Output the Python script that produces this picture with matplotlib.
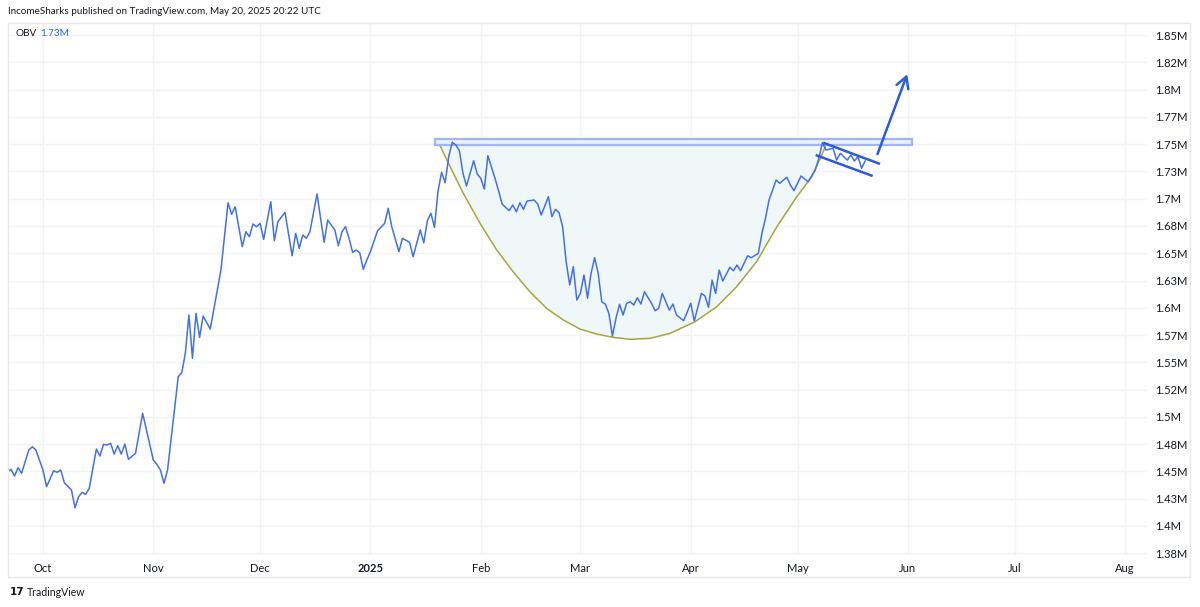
"""
OBV cup-and-handle chart, TradingView style.
"""
from datetime import datetime

import matplotlib
matplotlib.use("Agg")
import matplotlib.pyplot as plt
import matplotlib.dates as mdates
from matplotlib.patches import Rectangle
import numpy as np

plt.rcParams["font.family"] = ["Lato", "DejaVu Sans"]

# OBV data (millions), day offsets from 2024-09-21
start_date = datetime(2024, 9, 21)
day_offsets = [
    0, 1, 2, 3, 4, 6, 7, 8, 10, 11, 13, 14, 15, 16, 18, 19, 20, 21, 22, 23,
    25, 26, 27, 28, 29, 30, 31, 32, 33, 34, 36, 38, 41, 42, 43, 44, 45, 48, 49, 50,
    51, 52, 53, 54, 55, 57, 59, 60, 62, 63, 64, 66, 67, 68, 69, 70, 71, 72, 74, 75,
    76, 78, 80, 81, 82, 83, 84, 85, 87, 89, 90, 92, 93, 94, 95, 96, 97, 98, 99, 100,
    101, 102, 104, 106, 107, 108, 110, 111, 113, 114, 115, 116, 117, 118, 119, 120, 121, 122, 123, 124,
    125, 126, 127, 128, 129, 131, 132, 133, 134, 135, 137, 138, 139, 141, 142, 143, 144, 145, 146, 148,
    149, 150, 152, 153, 154, 155, 156, 157, 158, 159, 160, 161, 162, 163, 164, 165, 166, 167, 168, 169,
    170, 171, 172, 173, 174, 175, 176, 177, 178, 179, 181, 182, 183, 184, 186, 187, 188, 190, 192, 193,
    195, 196, 197, 198, 199, 200, 201, 203, 204, 205, 206, 208, 209, 211, 212, 213, 214, 216, 217, 219,
    220, 221, 223, 225, 227, 228, 229, 230, 232, 233, 234, 236, 237, 238, 239, 240, 241,
]
obv_m = [
    1.4497, 1.4519, 1.4458, 1.4534, 1.4483, 1.4696, 1.4726, 1.4696, 1.4513, 1.4360,
    1.4506, 1.4492, 1.4513, 1.4396, 1.4330, 1.4167, 1.4268, 1.4308, 1.4290, 1.4345,
    1.4705, 1.4641, 1.4748, 1.4742, 1.4758, 1.4659, 1.4736, 1.4659, 1.4751, 1.4611,
    1.4666, 1.5033, 1.4604, 1.4565, 1.4513, 1.4391, 1.4513, 1.5368, 1.5405, 1.5583,
    1.5934, 1.5537, 1.5949, 1.5729, 1.5924, 1.5805, 1.6163, 1.6346, 1.6963, 1.6857,
    1.6926, 1.6560, 1.6697, 1.6651, 1.6768, 1.6743, 1.6774, 1.6627, 1.6972, 1.6615,
    1.6789, 1.6875, 1.6477, 1.6682, 1.6545, 1.6667, 1.6637, 1.6697, 1.7043, 1.6600,
    1.6804, 1.6713, 1.6569, 1.6697, 1.6743, 1.6637, 1.6508, 1.6529, 1.6505, 1.6352,
    1.6438, 1.6514, 1.6706, 1.6774, 1.6912, 1.6743, 1.6514, 1.6637, 1.6600, 1.6468,
    1.6591, 1.6713, 1.6596, 1.6798, 1.6866, 1.6737, 1.7070, 1.7242, 1.7146, 1.7385,
    1.7517, 1.7492, 1.7440, 1.7232, 1.7116, 1.7348, 1.7226, 1.7187, 1.7088, 1.7394,
    1.7187, 1.7073, 1.6951, 1.6890, 1.6942, 1.6880, 1.6963, 1.6902, 1.6978, 1.6988,
    1.6951, 1.6850, 1.7018, 1.6835, 1.6902, 1.6871, 1.6743, 1.6422, 1.6209, 1.6376,
    1.6071, 1.6132, 1.6300, 1.6087, 1.6316, 1.6459, 1.6316, 1.6055, 1.6034, 1.5949,
    1.5741, 1.5903, 1.6032, 1.5934, 1.6041, 1.6055, 1.6025, 1.6092, 1.6034, 1.6147,
    1.6041, 1.5973, 1.5995, 1.6132, 1.5979, 1.6034, 1.5934, 1.5881, 1.6041, 1.5879,
    1.6132, 1.6108, 1.6004, 1.6254, 1.6132, 1.6346, 1.6245, 1.6371, 1.6340, 1.6392,
    1.6340, 1.6477, 1.6459, 1.6499, 1.6682, 1.6820, 1.6988, 1.7171, 1.7141, 1.7196,
    1.7125, 1.7073, 1.7208, 1.7155, 1.7263, 1.7370, 1.7513, 1.7446, 1.7462, 1.7354,
    1.7416, 1.7354, 1.7400, 1.7345, 1.7385, 1.7278, 1.7345,
]

# drawings (day offsets, millions)
cup_days = [120.8, 124.4, 128.1, 132.8, 137.5, 142.1, 146.8, 151.5, 156.2, 160.9,
            165.6, 170.2, 174.9, 180.6, 186.2, 193.2, 199.3, 204.9, 210.5, 216.2,
            221.8, 226.0, 228.8, 230.2]
cup_vals = [1.7538, 1.7293, 1.7049, 1.6774, 1.6529, 1.6330, 1.6147, 1.5995, 1.5888, 1.5805,
            1.5759, 1.5729, 1.5711, 1.5720, 1.5766, 1.5872, 1.6010, 1.6193, 1.6422, 1.6743,
            1.7018, 1.7201, 1.7400, 1.7507]
resist_days = [120.1, 254.3]
resist_vals = [1.7490, 1.7545]
flag_top_days, flag_top_vals = [229.2, 245.2], [1.7513, 1.7318]
flag_bot_days, flag_bot_vals = [227.1, 243.1], [1.7400, 1.7208]
arrow_days, arrow_vals = [244.2, 253.1], [1.7385, 1.8164]

month_ticks = ["2024-10-01", "2024-11-01", "2024-12-01", "2025-01-01", "2025-02-01",
               "2025-03-01", "2025-04-01", "2025-05-01", "2025-06-01", "2025-07-01",
               "2025-08-01"]
month_labels = ["Oct", "Nov", "Dec", "2025", "Feb", "Mar", "Apr", "May", "Jun", "Jul", "Aug"]
y_ticks = list(np.arange(1.375, 1.851, 0.025))
y_labels = ["1.38M", "1.4M", "1.43M", "1.45M", "1.48M", "1.5M", "1.52M", "1.55M", "1.57M",
            "1.6M", "1.63M", "1.65M", "1.68M", "1.7M", "1.73M", "1.75M", "1.77M", "1.8M",
            "1.82M", "1.85M"]

TEXT = "#131722"
LINE = "#4470e6"
DRAW = "#2a5bdc"
GRID = "#f2f3f7"

base = mdates.date2num(start_date)


def to_x(days):
    return base + np.asarray(days, dtype=float)


fig = plt.figure(figsize=(12, 6.07), dpi=100)
ax = fig.add_axes([8 / 1200, 52 / 607, 1139 / 1200, 532.3 / 607])

# cup fill + arc
cx = to_x(cup_days)
ax.fill_between(cx, cup_vals, resist_vals[0], color="#f0f7f9", lw=0, zorder=1)
ax.plot(cx, cup_vals, color="#a9a53e", lw=1.1, zorder=2, solid_joinstyle="round")

# resistance box
rx = to_x(resist_days)
ax.add_patch(Rectangle((rx[0], resist_vals[0]), rx[1] - rx[0], resist_vals[1] - resist_vals[0],
                       facecolor="#eaf0fd", edgecolor="#a3b5f0", lw=1.6, zorder=3))

# OBV line
ax.plot(to_x(day_offsets), obv_m, color=LINE, lw=1.1, zorder=4)

# flag + breakout arrow
ax.plot(to_x(flag_top_days), flag_top_vals, color=DRAW, lw=1.8, zorder=5, solid_capstyle="butt")
ax.plot(to_x(flag_bot_days), flag_bot_vals, color=DRAW, lw=1.8, zorder=5, solid_capstyle="butt")
ax.annotate("", xy=(to_x(arrow_days)[1], arrow_vals[1]), xytext=(to_x(arrow_days)[0], arrow_vals[0]),
            arrowprops=dict(arrowstyle="->,head_length=0.8,head_width=0.45", color=DRAW, lw=1.8),
            zorder=5)

ax.set_xlim(base + 0.17, base + 320.2)
ax.set_ylim(1.3734, 1.8613)
ax.set_xticks(mdates.date2num([datetime.fromisoformat(d) for d in month_ticks]))
ax.set_xticklabels(month_labels)
for lbl in ax.get_xticklabels():
    if lbl.get_text() == "2025":
        lbl.set_fontweight("bold")
ax.set_yticks(y_ticks)
ax.set_yticklabels(y_labels)
ax.yaxis.tick_right()
ax.tick_params(axis="both", length=0, labelsize=8, colors=TEXT)
ax.tick_params(axis="x", pad=6)
ax.tick_params(axis="y", pad=5.5)
ax.grid(True, color=GRID, lw=1)
ax.set_axisbelow(True)
for s in ax.spines.values():
    s.set_visible(False)

# outer frame
fig.patches.append(Rectangle((8 / 1200, 1 - 577 / 607), 1182 / 1200, 554.5 / 607,
                             transform=fig.transFigure, fill=False, edgecolor="#e6e8ee", lw=1))

fig.text(8 / 1200, 1 - 12 / 607, "IncomeSharks published on TradingView.com, May 20, 2025 20:22 UTC",
         fontsize=7.1, color=TEXT, va="center", ha="left")
fig.text(15 / 1200, 1 - 34 / 607, "OBV", fontsize=7.2, color=TEXT, va="center")
fig.text(40 / 1200, 1 - 34 / 607, "1.73M", fontsize=7.2, color="#2962ff", va="center")
fig.text(10 / 1200, 1 - 592 / 607, "17", fontsize=7.5, color=TEXT, va="center",
         fontweight="heavy", family="DejaVu Sans")
fig.text(27 / 1200, 1 - 592 / 607, "TradingView", fontsize=7.6, color=TEXT, va="center")

fig.savefig("out.png", dpi=100)
